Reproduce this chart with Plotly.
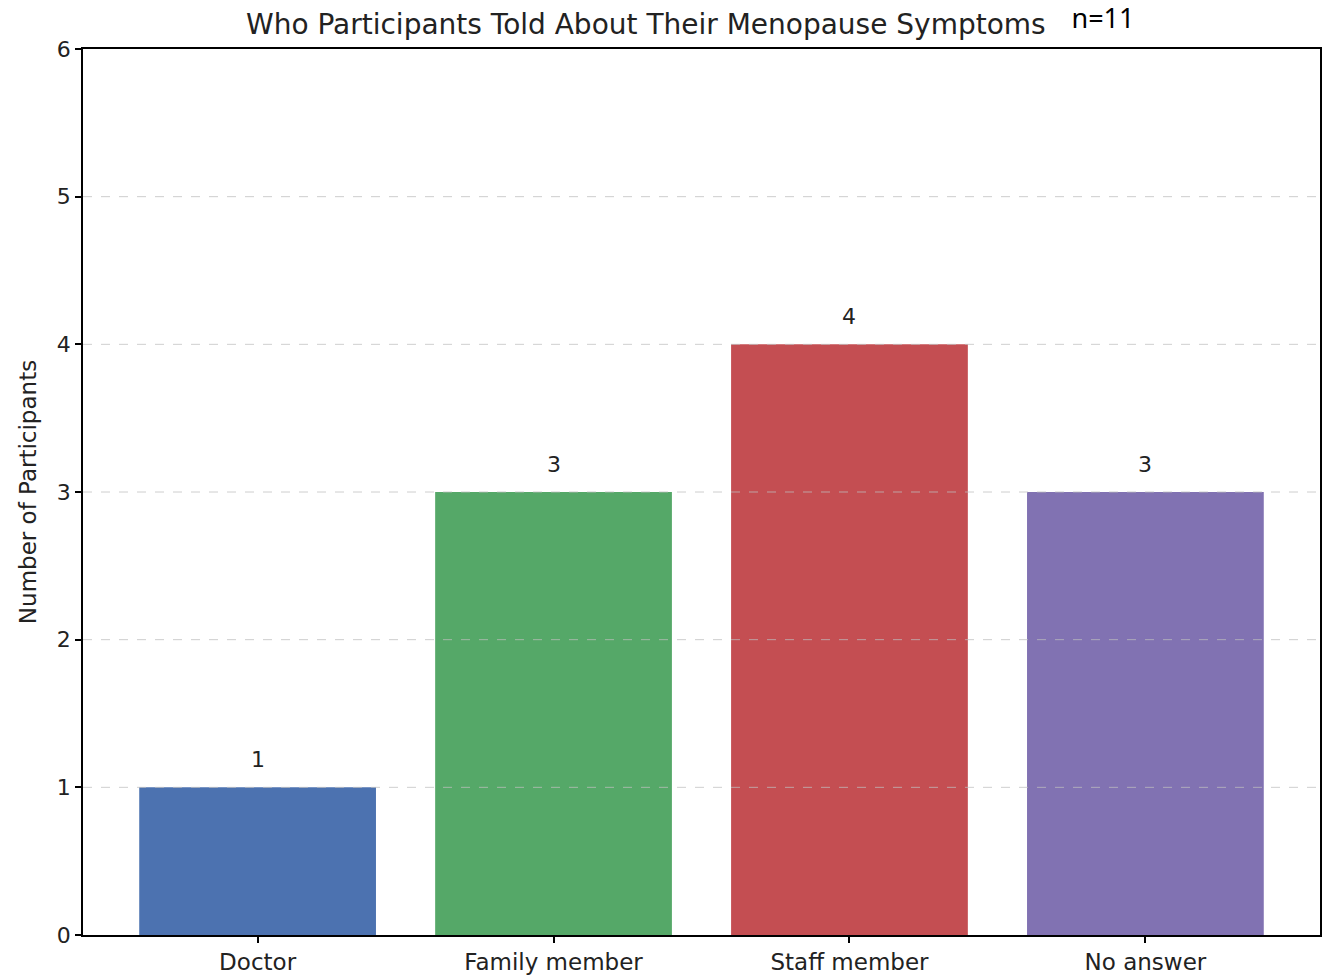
import plotly.graph_objects as go

categories = ['Doctor', 'Family member', 'Staff member', 'No answer']
counts = [1, 3, 4, 3]
colors = ['#4C72B0', '#55A868', '#C44E52', '#8172B2']
y_ticks = [0, 1, 2, 3, 4, 5, 6]
total_label = 'n=11'

fig = go.Figure()
fig.add_trace(go.Bar(
    x=categories,
    y=counts,
    marker=dict(color=colors, line=dict(width=0)),
    width=0.8,
    showlegend=False,
))

# dashed grid drawn over the bars, like matplotlib's default grid zorder
for t in y_ticks[1:-1]:
    fig.add_shape(
        type='line', xref='paper', yref='y',
        x0=0, x1=1, y0=t, y1=t,
        line=dict(color='rgba(190,190,190,0.75)', width=1, dash='dash'),
        layer='above',
    )

for cat, val in zip(categories, counts):
    fig.add_annotation(
        x=cat, y=val, text=str(val), showarrow=False,
        yanchor='bottom', yshift=13,
        font=dict(size=22, color='#222222', family='DejaVu Sans'),
    )

fig.add_annotation(
    xref='paper', yref='paper', x=0.8245, y=1.036,
    text=total_label, showarrow=False,
    xanchor='center', yanchor='middle',
    bgcolor='white', width=100, height=42,
    font=dict(size=27, color='black', family='Noto Sans'),
)

fig.update_layout(
    width=1328,
    height=976,
    paper_bgcolor='white',
    plot_bgcolor='white',
    margin=dict(l=83, r=8, t=49, b=41),
    font=dict(family='DejaVu Sans', color='#222222'),
    title=dict(
        text='Who Participants Told About Their Menopause Symptoms',
        x=0.455, xref='paper', xanchor='center',
        y=1 - 24 / 976, yref='container', yanchor='middle',
        font=dict(size=28, color='#222222', family='DejaVu Sans'),
    ),
    bargap=0.2,
    xaxis=dict(
        range=[-0.59, 3.59],
        automargin=False,
        showline=True, linecolor='black', linewidth=1.5, mirror=True,
        ticks='outside', ticklen=6, tickcolor='black', tickwidth=1.5,
        tickfont=dict(size=23, color='#222222'),
        showgrid=False,
    ),
    yaxis=dict(
        range=[0, 6],
        tickvals=y_ticks,
        automargin=False,
        title=dict(text='Number of Participants', font=dict(size=23, color='#222222'), standoff=14),
        showline=True, linecolor='black', linewidth=1.5, mirror=True,
        ticks='outside', ticklen=6, tickcolor='black', tickwidth=1.5,
        tickfont=dict(size=22, color='#222222'),
        showgrid=False,
        zeroline=False,
    ),
)

fig.write_html(
    'out.html',
    config={'displayModeBar': False},
    post_script="document.body.style.margin='0';",
)
